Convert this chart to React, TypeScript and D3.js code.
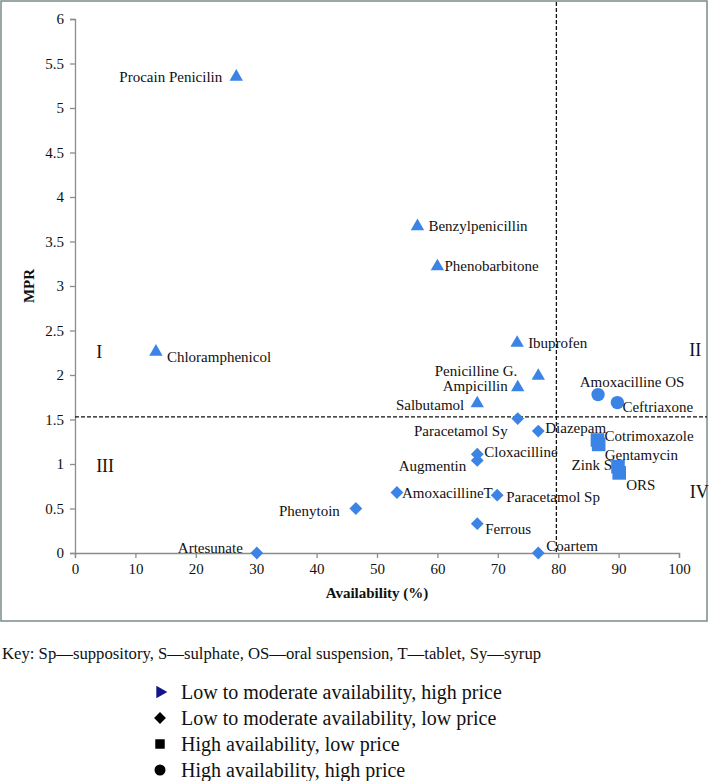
import React, { useEffect, useRef } from "react";
import * as d3 from "d3";

// ---------- data ----------
const drugNames = [
  "Procain Penicilin", "Benzylpenicillin", "Phenobarbitone", "Chloramphenicol",
  "Ibuprofen", "Penicilline G.", "Ampicillin", "Salbutamol",
  "Amoxacilline OS", "Ceftriaxone",
  "Cotrimoxazole", "Gentamycin", "Zink S", "ORS",
  "Paracetamol Sy", "Diazepam", "Cloxacilline", "Augmentin", "AmoxacillineT",
  "Paracetamol Sp", "Ferrous", "Coartem", "Phenytoin", "Artesunate",
];
const availability = [
  26.7, 56.7, 60.0, 13.4,
  73.2, 76.7, 73.3, 66.6,
  86.6, 89.8,
  86.5, 86.7, 89.9, 90.1,
  73.3, 76.7, 66.6, 66.6, 53.3,
  69.9, 66.6, 76.7, 46.5, 30.1,
];
const mpr = [
  5.35, 3.67, 3.22, 2.26,
  2.36, 1.99, 1.86, 1.68,
  1.78, 1.69,
  1.27, 1.22, 0.97, 0.9,
  1.51, 1.37, 1.11, 1.04, 0.68,
  0.65, 0.33, 0.0, 0.5, 0.0,
];
// group: 0 = low/moderate avail high price, 1 = low/moderate avail low price, 2 = high avail low price, 3 = high avail high price
const group = [
  0, 0, 0, 0,
  0, 0, 0, 0,
  3, 3,
  2, 2, 2, 2,
  1, 1, 1, 1, 1,
  1, 1, 1, 1, 1,
];
// label placement (anchor, dx, dy in px relative to marker)
const labelAnchor = [
  "end", "start", "start", "start",
  "start", "end", "end", "end",
  "middle", "start",
  "start", "start", "end", "start",
  "end", "start", "start", "end", "start",
  "start", "start", "start", "end", "end",
];
const labelDx = [
  -14, 11, 7, 11,
  11, -21, -10, -13,
  34, 5,
  7, 6, -6, 7,
  -10, 7, 7, -11, 5,
  9, 8, 8, -16, -14,
];
const labelDy = [
  0, 0, 0, 5,
  0, -5, -1, 2,
  -13, 4,
  -4, 11, -2, 12,
  12, -3, -2, 6, 1,
  2, 5, -7, 2, -5,
];

const xTicks = [0, 10, 20, 30, 40, 50, 60, 70, 80, 90, 100];
const yTicks = [0, 0.5, 1, 1.5, 2, 2.5, 3, 3.5, 4, 4.5, 5, 5.5, 6];
const availabilityCut = 79.7;
const mprCut = 1.53;

const quadrantNames = ["I", "II", "III", "IV"];
const quadrantX = [3.5, 101.7, 3.5, 101.8];
const quadrantY = [2.26, 2.28, 0.98, 0.685];

const keyText = "Key: Sp\u2014suppository, S\u2014sulphate, OS\u2014oral suspension, T\u2014tablet, Sy\u2014syrup";
const legendLabels = [
  "Low to moderate availability, high price",
  "Low to moderate availability, low price",
  "High availability, low price",
  "High availability, high price",
];

// ---------- styles ----------
const W = 709;
const H = 781;
const FONT = "Liberation Serif, Tinos, Times New Roman, Times, DejaVu Serif, Noto Serif, serif";
const BLUE = "#3b84e6";
const AXIS = "#8c8c8c";

export default function App() {
  const ref = useRef<SVGSVGElement | null>(null);

  useEffect(() => {
    const svg = d3.select(ref.current);
    svg.selectAll("*").remove();

    const x = d3.scaleLinear().domain([0, 100]).range([75, 679]);
    const y = d3.scaleLinear().domain([0, 6]).range([553, 19]);

    // frame
    svg.append("rect")
      .attr("x", 1).attr("y", 1).attr("width", 706).attr("height", 620)
      .attr("fill", "white").attr("stroke", "#7b8a8b").attr("stroke-width", 1.5);

    // axes
    const gx = svg.append("g").attr("transform", `translate(0,${y(0)})`)
      .call(d3.axisBottom(x).tickValues(xTicks).tickSize(5).tickPadding(5).tickFormat(d3.format("d")));
    const gy = svg.append("g").attr("transform", `translate(${x(0)},0)`)
      .call(d3.axisLeft(y).tickValues(yTicks).tickSize(5).tickPadding(6).tickFormat((d: any) => String(d)));
    [gx, gy].forEach((g) => {
      g.attr("font-family", null).attr("font-size", null);
      g.selectAll("path").attr("stroke", AXIS).attr("stroke-width", 1.3);
      g.selectAll("line").attr("stroke", AXIS).attr("stroke-width", 1.3);
      g.selectAll("text").style("font-family", FONT).style("font-size", "15px").attr("fill", "#111");
    });

    // axis titles
    svg.append("text")
      .attr("x", (x(0) + x(100)) / 2).attr("y", 598)
      .attr("text-anchor", "middle").style("font-family", FONT).style("font-size", "15px")
      .attr("font-weight", "bold").attr("fill", "#111").text("Availability (%)");
    svg.append("text")
      .attr("transform", `translate(34,${(y(0) + y(6)) / 2}) rotate(-90)`)
      .attr("text-anchor", "middle").style("font-family", FONT).style("font-size", "15px")
      .attr("font-weight", "bold").attr("fill", "#111").text("MPR");

    // dashed cut lines
    svg.append("line")
      .attr("x1", x(0)).attr("x2", 707).attr("y1", y(mprCut)).attr("y2", y(mprCut))
      .attr("stroke", "#111").attr("stroke-width", 1.3).attr("stroke-dasharray", "4,2");
    svg.append("line")
      .attr("x1", x(availabilityCut)).attr("x2", x(availabilityCut)).attr("y1", 2).attr("y2", y(0))
      .attr("stroke", "#111").attr("stroke-width", 1.3).attr("stroke-dasharray", "4,2");

    // quadrant labels
    quadrantNames.forEach((q, i) => {
      svg.append("text")
        .attr("x", x(quadrantX[i])).attr("y", y(quadrantY[i]))
        .attr("dominant-baseline", "central")
        .style("font-family", FONT).style("font-size", "18px").attr("fill", "#111").text(q);
    });

    // markers
    const symbolFor = (g: number) => {
      if (g === 0) return d3.symbol(d3.symbolTriangle, 78)();
      if (g === 1) return d3.symbol(d3.symbolSquare, 82)();
      if (g === 2) return d3.symbol(d3.symbolSquare, 185)();
      return d3.symbol(d3.symbolCircle, 140)();
    };
    drugNames.forEach((name, i) => {
      const cx = x(availability[i]);
      const cy = y(mpr[i]);
      const rot = group[i] === 1 ? " rotate(45)" : "";
      svg.append("path")
        .attr("d", symbolFor(group[i]) as string)
        .attr("transform", `translate(${cx},${cy})${rot}`)
        .attr("fill", BLUE);
    });
    drugNames.forEach((name, i) => {
      const cx = x(availability[i]);
      const cy = y(mpr[i]);
      svg.append("text")
        .attr("x", cx + labelDx[i]).attr("y", cy + labelDy[i])
        .attr("dominant-baseline", "central")
        .attr("text-anchor", labelAnchor[i])
        .style("font-family", FONT).style("font-size", "15px").attr("fill", "#111")
        .text(name);
    });

    // key
    svg.append("text")
      .attr("x", 2).attr("y", 653).attr("dominant-baseline", "central")
      .style("font-family", FONT).style("font-size", "16.7px").attr("fill", "#111").text(keyText);

    // legend
    const legendY = d3.scaleLinear().domain([0, 3]).range([692, 770]);
    const legendSymbols = [
      { d: d3.symbol(d3.symbolTriangle, 70)(), rot: 90, fill: "#14148c" },
      { d: d3.symbol(d3.symbolSquare, 70)(), rot: 45, fill: "#000" },
      { d: d3.symbol(d3.symbolSquare, 90)(), rot: 0, fill: "#000" },
      { d: d3.symbol(d3.symbolCircle, 95)(), rot: 0, fill: "#000" },
    ];
    legendLabels.forEach((lab, i) => {
      const ly = legendY(i);
      svg.append("path")
        .attr("d", legendSymbols[i].d as string)
        .attr("transform", `translate(160,${ly}) rotate(${legendSymbols[i].rot})`)
        .attr("fill", legendSymbols[i].fill);
      svg.append("text")
        .attr("x", 181).attr("y", ly).attr("dominant-baseline", "central")
        .style("font-family", FONT).style("font-size", "20px").attr("fill", "#111").text(lab);
    });
  }, []);

  return (
    <>
      <style>{"body{margin:0;background:#fff}"}</style>
      <svg ref={ref} width={W} height={H} style={{ display: "block" }} />
    </>
  );
}
